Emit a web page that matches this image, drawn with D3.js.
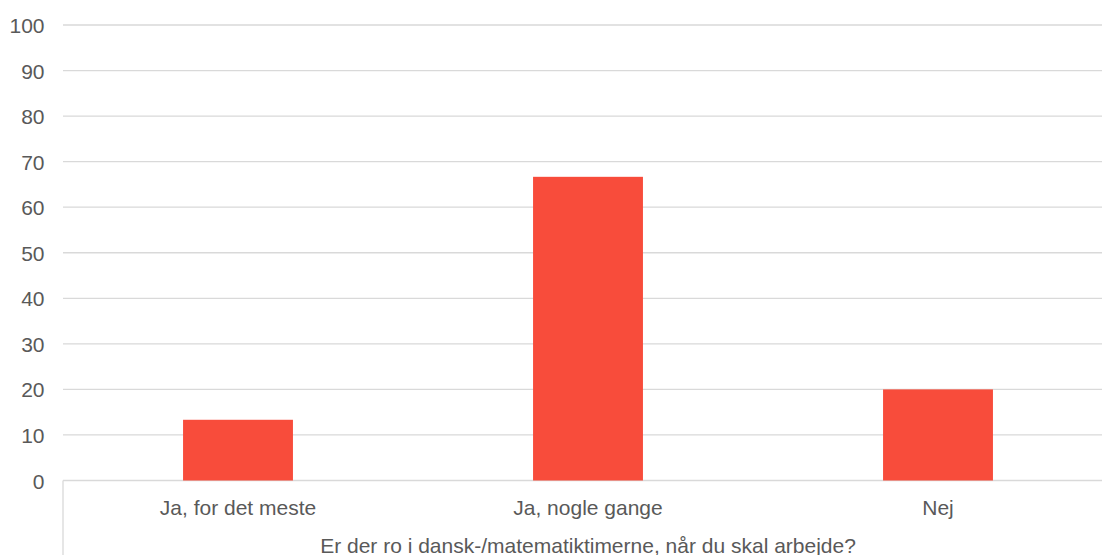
<!DOCTYPE html>
<html lang="da">
<head>
    <meta charset="UTF-8">
    <title>Er der ro i dansk-/matematiktimerne</title>
    <script src="https://d3js.org/d3.v7.min.js"></script>
    <style>
        body { margin: 0; background: #fff; }
        svg { display: block; font-family: "Liberation Sans", Arial, sans-serif; }
        .tick-label { font-size: 21px; fill: #595959; }
        .grid line { stroke: #d9d9d9; stroke-width: 1.3; }
    </style>
</head>
<body>
    <svg id="chart" width="1102" height="555"></svg>
    <script>
        // data
        const categories = ["Ja, for det meste", "Ja, nogle gange", "Nej"];
        const values = [13.33, 66.67, 20];
        const yTicks = [0, 10, 20, 30, 40, 50, 60, 70, 80, 90, 100];
        const axisTitle = "Er der ro i dansk-/matematiktimerne, når du skal arbejde?";

        const svg = d3.select("#chart");
        const plotLeft = 63, plotRight = 1113, plotTop = 25, plotBottom = 480.5;

        const x = d3.scaleBand().domain(categories).range([plotLeft, plotRight])
            .paddingInner(0.686).paddingOuter(0.343);
        const xc = d3.scaleBand().domain(categories).range([plotLeft, plotRight]);
        const y = d3.scaleLinear().domain([0, 100]).range([plotBottom, plotTop]);

        // gridlines
        svg.append("g").attr("class", "grid")
            .selectAll("line").data(yTicks).enter().append("line")
            .attr("x1", plotLeft).attr("x2", 1102)
            .attr("y1", d => y(d)).attr("y2", d => y(d));

        // y tick labels
        svg.append("g").selectAll("text").data(yTicks).enter().append("text")
            .attr("class", "tick-label")
            .attr("x", 44.5).attr("y", d => y(d) + 0.5)
            .attr("text-anchor", "end").attr("dominant-baseline", "central")
            .text(d => d);

        // bars
        svg.append("g").selectAll("rect").data(values).enter().append("rect")
            .attr("x", (d, i) => x(categories[i]))
            .attr("y", d => y(d))
            .attr("width", x.bandwidth())
            .attr("height", d => y(0) - y(d))
            .attr("fill", "#f84c3b");

        // left separator of the category axis
        svg.append("line")
            .attr("x1", plotLeft).attr("x2", plotLeft)
            .attr("y1", plotBottom).attr("y2", 555)
            .attr("stroke", "#d9d9d9").attr("stroke-width", 1.3);

        // category labels
        svg.append("g").selectAll("text").data(categories).enter().append("text")
            .attr("class", "tick-label")
            .attr("x", d => xc(d) + xc.bandwidth() / 2).attr("y", 507.5)
            .attr("text-anchor", "middle").attr("dominant-baseline", "central")
            .text(d => d);

        // axis title
        svg.append("text")
            .attr("class", "tick-label")
            .attr("x", (plotLeft + plotRight) / 2).attr("y", 545)
            .attr("text-anchor", "middle").attr("dominant-baseline", "central")
            .text(axisTitle);
    </script>
</body>
</html>
